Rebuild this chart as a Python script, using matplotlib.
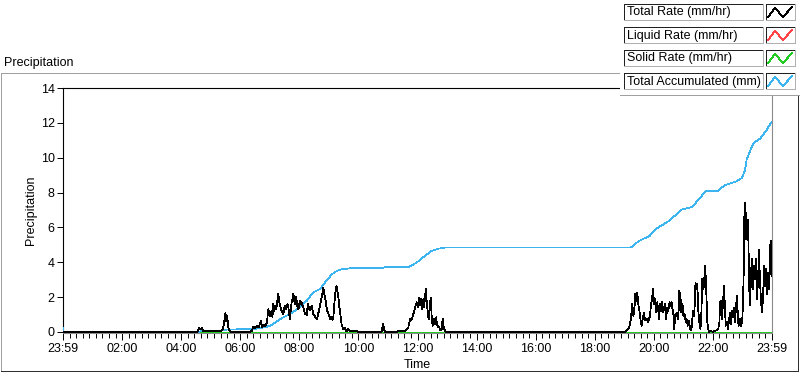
import matplotlib

matplotlib.use("Agg")
import matplotlib.pyplot as plt
from matplotlib.lines import Line2D
from matplotlib.patches import Rectangle
from matplotlib.ticker import FixedLocator, AutoMinorLocator

plt.rcParams["font.family"] = ["Liberation Sans", "DejaVu Sans"]

W, H = 800, 373

# hours since 23:59 -> rate (mm/hr), total rate
RATE_T = [
    0.0, 4.55, 4.60, 4.65, 4.70, 4.75, 4.80, 5.00, 5.20, 5.35, 5.42, 5.47, 5.50, 5.53, 5.56, 5.60, 5.65, 5.70,
    6.30, 6.39, 6.44, 6.50, 6.56, 6.62, 6.70, 6.74, 6.78, 6.84, 6.90, 6.95, 7.00, 7.06, 7.09, 7.12, 7.15, 7.18,
    7.22, 7.26, 7.29, 7.32, 7.35, 7.40, 7.46, 7.49, 7.51, 7.55, 7.60, 7.63, 7.68, 7.71, 7.74, 7.77, 7.80, 7.83,
    7.85, 7.88, 7.91, 7.94, 7.97, 8.00, 8.02, 8.05, 8.08, 8.11, 8.14, 8.17, 8.19, 8.22, 8.25, 8.28, 8.30, 8.33,
    8.36, 8.39, 8.42, 8.45, 8.47, 8.50, 8.53, 8.56, 8.59, 8.62, 8.64, 8.67, 8.70, 8.73, 8.76, 8.79, 8.81, 8.84,
    8.87, 8.90, 8.92, 8.95, 8.98, 9.01, 9.04, 9.07, 9.09, 9.12, 9.15, 9.18, 9.21, 9.24, 9.26, 9.29, 9.32, 9.35,
    9.38, 9.41, 9.43, 9.46, 9.49, 9.52, 9.54, 9.57, 9.60, 9.63, 9.66, 9.71, 9.83, 9.94, 10.00,
    10.78, 10.82, 10.84, 10.86, 10.90,
    11.30, 11.35, 11.40, 11.46, 11.52, 11.58, 11.69, 11.75, 11.80, 11.86, 11.92, 11.97, 12.01, 12.05, 12.09,
    12.12, 12.16, 12.20, 12.23, 12.25, 12.29, 12.31, 12.35, 12.38, 12.41, 12.45, 12.48, 12.51, 12.55, 12.59,
    12.63, 12.66, 12.71, 12.74, 12.76, 12.82, 12.85, 12.89, 12.93, 12.99,
    19.02, 19.08, 19.17, 19.22, 19.27, 19.31, 19.34, 19.37, 19.41, 19.44, 19.48, 19.51, 19.56, 19.59, 19.62,
    19.67, 19.70, 19.76, 19.81, 19.87, 19.90, 19.94, 19.97, 20.01, 20.04, 20.07, 20.11, 20.14, 20.18, 20.21,
    20.24, 20.28, 20.32, 20.38, 20.41, 20.46, 20.49, 20.53, 20.57, 20.60, 20.64, 20.67, 20.69, 20.73, 20.76,
    20.80, 20.83, 20.86, 20.90, 20.93, 20.97, 21.00, 21.04, 21.08, 21.11, 21.15, 21.18, 21.23, 21.27, 21.30,
    21.34, 21.37, 21.41, 21.44, 21.47, 21.51, 21.54, 21.58, 21.61, 21.64, 21.68, 21.71, 21.74, 21.78, 21.81,
    21.85, 21.88, 21.92, 21.97, 22.01, 22.07, 22.13, 22.18, 22.22, 22.24, 22.27, 22.31, 22.34, 22.38, 22.41,
    22.44, 22.48, 22.51, 22.55, 22.58, 22.61, 22.65, 22.68, 22.71, 22.75, 22.78, 22.82, 22.85, 22.88, 22.92,
    22.95, 22.99, 23.02, 23.04, 23.06, 23.09, 23.11, 23.13, 23.15, 23.18, 23.20, 23.23, 23.26, 23.29, 23.32,
    23.36, 23.39, 23.43, 23.46, 23.49, 23.53, 23.56, 23.59, 23.63, 23.66, 23.70, 23.73, 23.76, 23.80, 23.83,
    23.87, 23.90, 23.93, 23.96, 23.98, 24.00,
]
RATE_V = [
    0.0, 0.0, 0.25, 0.15, 0.25, 0.05, 0.05, 0.05, 0.05, 0.05, 0.20, 0.70, 1.10, 0.60, 0.90, 0.20, 0.05, 0.0,
    0.0, 0.05, 0.30, 0.20, 0.35, 0.25, 0.65, 0.30, 0.40, 0.35, 0.50, 1.30, 0.90, 1.20, 0.85, 1.60, 1.20, 1.50,
    1.30, 1.80, 2.20, 1.70, 1.50, 1.20, 1.00, 1.40, 1.50, 1.30, 1.60, 1.40, 0.75, 1.20, 1.70, 1.90, 2.20, 1.80,
    1.60, 2.00, 1.80, 1.40, 1.30, 1.60, 1.80, 1.60, 1.70, 1.50, 1.40, 1.20, 1.00, 1.10, 0.95, 1.50, 1.60, 1.30,
    1.25, 1.40, 1.50, 1.20, 1.05, 0.95, 0.90, 0.80, 0.74, 0.90, 1.05, 1.30, 1.50, 1.80, 2.00, 2.30, 2.55, 2.20,
    2.00, 1.70, 1.40, 1.20, 1.08, 0.90, 0.75, 0.85, 0.80, 0.70, 0.80, 1.50, 2.17, 2.50, 2.64, 2.30, 2.00, 1.50,
    1.10, 0.70, 0.46, 0.30, 0.17, 0.25, 0.22, 0.10, 0.05, 0.15, 0.17, 0.05, 0.05, 0.05, 0.0,
    0.0, 0.30, 0.46, 0.20, 0.0,
    0.0, 0.05, 0.03, 0.06, 0.02, 0.08, 0.27, 0.75, 0.70, 1.03, 1.41, 1.70, 1.41, 1.98, 1.54,
    1.89, 1.31, 1.88, 1.41, 1.98, 2.46, 1.79, 1.03, 0.75, 1.41, 1.98, 0.84, 0.36, 0.75, 0.46,
    0.84, 0.40, 0.27, 0.32, 0.08, 0.17, 0.75, 0.27, 0.05, 0.0,
    0.0, 0.08, 0.27, 0.74, 1.60, 0.93, 1.22, 2.17, 1.79, 2.27, 1.51, 1.22, 0.55, 0.36, 0.74,
    1.12, 0.65, 0.74, 0.55, 0.93, 1.51, 1.89, 2.46, 1.60, 1.89, 1.12, 1.70, 1.41, 0.74, 1.60,
    1.22, 1.70, 1.12, 1.60, 0.74, 1.41, 1.22, 1.70, 1.51, 1.70, 1.22, 0.93, 0.17, 1.03, 0.93,
    1.12, 0.74, 2.36, 2.08, 1.12, 1.60, 0.93, 1.03, 0.55, 0.74, 0.36, 0.65, 0.17, 0.08, 0.74,
    1.22, 0.93, 2.84, 2.46, 2.74, 1.12, 0.55, 0.17, 1.12, 3.03, 2.46, 3.12, 3.79, 2.08, 0.55,
    0.08, 0.0, 0.08, 0.02, 0.0, 0.08, 0.08, 0.17, 0.55, 1.70, 1.79, 0.74, 1.70, 2.65, 1.12,
    0.36, 0.55, 0.17, 0.74, 1.12, 0.46, 1.22, 0.84, 1.41, 0.55, 1.51, 2.08, 0.55, 0.36, 0.74,
    0.36, 0.55, 1.70, 3.31, 6.46, 7.41, 5.31, 6.84, 5.51, 6.46, 5.31, 2.46, 1.51, 3.41, 4.17,
    2.46, 3.79, 3.03, 4.17, 1.89, 3.03, 4.74, 3.03, 1.70, 1.12, 2.08, 3.79, 2.65, 3.60, 2.17,
    3.41, 2.46, 4.84, 5.22, 3.22, 4.17,
]

# accumulated total (mm); None marks the short data gap near 06:00
ACC_T = [
    0.0, 0.02, 4.55, 4.65, 4.75, 5.00, 5.45, 5.55, 5.98, 6.00, 6.03, 6.40, 6.60, 6.84, 7.00, 7.12, 7.35,
    7.68, 8.02, 8.25, 8.47, 8.70, 8.87, 9.10, 9.27, 9.43, 9.70, 10.84, 10.90, 11.70, 11.97, 12.25, 12.48,
    12.71, 12.93, 19.10, 19.25, 19.40, 19.55, 19.85, 20.05, 20.50, 20.95, 21.30, 21.75, 22.15, 22.40,
    22.80, 22.98, 23.09, 23.14, 23.37, 23.60, 23.82, 23.99,
]
ACC_V = [
    0.25, 0.0, 0.0, 0.03, 0.06, 0.07, 0.08, 0.14, 0.15, None, 0.15, 0.16, 0.20, 0.27, 0.35, 0.46, 0.74,
    1.03, 1.41, 1.79, 2.27, 2.46, 2.84, 3.31, 3.50, 3.60, 3.65, 3.68, 3.72, 3.72, 3.98, 4.36, 4.65,
    4.78, 4.84, 4.84, 4.86, 5.10, 5.27, 5.50, 5.89, 6.36, 7.03, 7.18, 8.07, 8.07, 8.42,
    8.65, 8.84, 9.31, 9.89, 10.84, 11.10, 11.60, 12.07,
]

SOLID_T = [0.0, 24.0]
SOLID_V = [0.0, 0.0]

X_TICKS = [0, 2, 4, 6, 8, 10, 12, 14, 16, 18, 20, 22, 24]
X_LABELS = ["23:59", "02:00", "04:00", "06:00", "08:00", "10:00", "12:00",
            "14:00", "16:00", "18:00", "20:00", "22:00", "23:59"]
Y_TICKS = [0, 2, 4, 6, 8, 10, 12, 14]

LEGEND = [
    ("Total Rate (mm/hr)", "black"),
    ("Liquid Rate (mm/hr)", "#ff4545"),
    ("Solid Rate (mm/hr)", "#22cc22"),
    ("Total Accumulated (mm)", "#3cb4f0"),
]

PX = 0.55  # thin, one-pixel non-antialiased lines
FS = 9


def fx(x):
    return x / W


def fy(y):
    return 1 - y / H


def fline(fig, xs, ys, color, lw=PX, z=5):
    fig.add_artist(Line2D([fx(v) for v in xs], [fy(v) for v in ys],
                          color=color, lw=lw, transform=fig.transFigure,
                          zorder=z, antialiased=False))


fig = plt.figure(figsize=(W / 100, H / 100), dpi=100, facecolor="white")

# sunken frame around the graph
fline(fig, [1, 1, 798], [371, 73, 73], "#a0a0a0", z=1)
fline(fig, [1, 798, 798], [371, 371, 73], "#303030", z=1)
fig.text(fx(4), fy(63), "Precipitation", fontsize=FS, va="center", ha="left")

ax = fig.add_axes([fx(63), fy(333), (772 - 63) / W, (333 - 88) / H])
ax.set_facecolor("white")

ax.plot(RATE_T, RATE_V, color="#ff4545", lw=PX, antialiased=False, zorder=3)
ax.plot(SOLID_T, SOLID_V, color="#22cc22", lw=PX, antialiased=False, zorder=4)
acc_v = [float("nan") if v is None else v for v in ACC_V]
ax.plot(ACC_T, acc_v, color="#3cb4f0", lw=PX, antialiased=False, zorder=5)
ax.plot(RATE_T, RATE_V, color="black", lw=PX, antialiased=False, zorder=6)

ax.set_xlim(0, 24)
ax.set_ylim(-0.06, 14)
ax.xaxis.set_major_locator(FixedLocator(X_TICKS))
ax.set_xticklabels(X_LABELS)
ax.xaxis.set_minor_locator(AutoMinorLocator(9))
ax.set_yticks(Y_TICKS)
ax.tick_params(axis="x", which="major", direction="out", length=5, width=0.7, pad=2, labelsize=FS)
ax.tick_params(axis="x", which="minor", direction="out", length=3.5, width=0.7)
ax.tick_params(axis="y", which="major", direction="out", length=4, width=0.7, pad=2, labelsize=FS)

for side in ["left", "top"]:
    ax.spines[side].set_color("black")
    ax.spines[side].set_linewidth(0.8)
for side in ["right", "bottom"]:
    ax.spines[side].set_color("#8a8a8a")
    ax.spines[side].set_linewidth(0.8)

ax.set_xlabel("Time", fontsize=FS, labelpad=3)
ax.set_ylabel("Precipitation", fontsize=FS, labelpad=3)

# legend panel in the top right corner
fig.add_artist(Rectangle((fx(620), fy(95)), (800 - 620) / W, 95 / H, transform=fig.transFigure,
                         facecolor="white", edgecolor="none", zorder=6))
fline(fig, [620, 800], [95, 95], "#a0a0a0", z=7)
for i, (name, color) in enumerate(LEGEND):
    top = 4 + 23 * i
    bot = top + 16
    for x0, x1 in [(624, 763), (766, 795)]:
        fline(fig, [x0, x0, x1], [bot, top, top], "#202020", z=8)
        fline(fig, [x0, x1, x1], [bot, bot, top], "#b0b0b0", z=8)
    fig.text(fx(627), fy((top + bot) / 2 + 0.5), name, fontsize=FS, va="center", ha="left", zorder=9)
    fline(fig, [768, 775, 783, 792], [bot - 3, top + 4, bot - 3, top + 3], color, z=9)

fig.savefig("out.png", dpi=100, facecolor="white")
